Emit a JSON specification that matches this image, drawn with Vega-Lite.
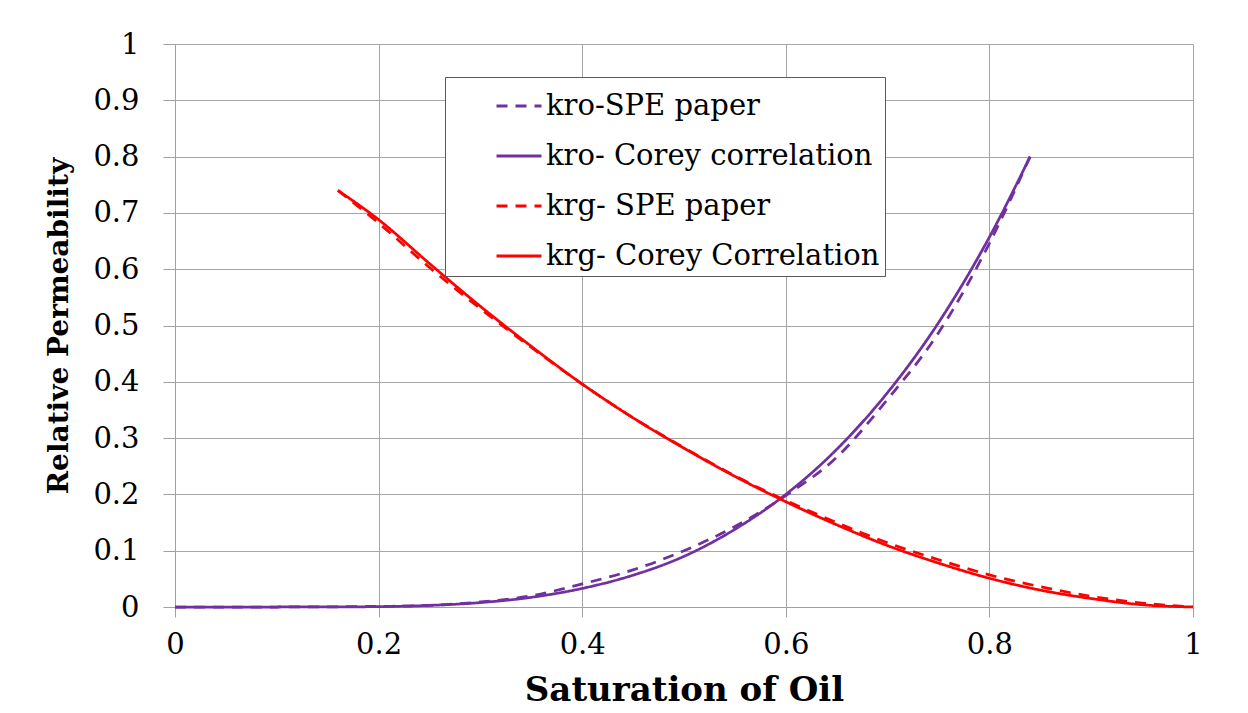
{
  "$schema": "https://vega.github.io/schema/vega-lite/v6.json",
  "width": 1018,
  "height": 563,
  "autosize": {"type": "none"},
  "padding": {"left": 175, "top": 44, "right": 55, "bottom": 106},
  "background": "white",
  "config": {"view": {"stroke": null}, "font": "DejaVu Serif"},
  "data": {
    "values": [
      {"s": "kro-SPE paper", "x": 0, "y": 0},
      {"s": "kro-SPE paper", "x": 0.05, "y": 0},
      {"s": "kro-SPE paper", "x": 0.1, "y": 0},
      {"s": "kro-SPE paper", "x": 0.15, "y": 0.0003},
      {"s": "kro-SPE paper", "x": 0.2, "y": 0.001},
      {"s": "kro-SPE paper", "x": 0.25, "y": 0.003},
      {"s": "kro-SPE paper", "x": 0.3, "y": 0.009},
      {"s": "kro-SPE paper", "x": 0.35, "y": 0.02},
      {"s": "kro-SPE paper", "x": 0.4, "y": 0.041},
      {"s": "kro-SPE paper", "x": 0.45, "y": 0.066},
      {"s": "kro-SPE paper", "x": 0.5, "y": 0.1},
      {"s": "kro-SPE paper", "x": 0.55, "y": 0.143},
      {"s": "kro-SPE paper", "x": 0.6, "y": 0.198},
      {"s": "kro-SPE paper", "x": 0.65, "y": 0.266},
      {"s": "kro-SPE paper", "x": 0.7, "y": 0.369},
      {"s": "kro-SPE paper", "x": 0.75, "y": 0.487},
      {"s": "kro-SPE paper", "x": 0.8, "y": 0.646},
      {"s": "kro-SPE paper", "x": 0.84, "y": 0.8},
      {"s": "kro- Corey correlation", "x": 0, "y": 0},
      {"s": "kro- Corey correlation", "x": 0.05, "y": 0},
      {"s": "kro- Corey correlation", "x": 0.1, "y": 0},
      {"s": "kro- Corey correlation", "x": 0.15, "y": 0.0001},
      {"s": "kro- Corey correlation", "x": 0.2, "y": 0.0007},
      {"s": "kro- Corey correlation", "x": 0.25, "y": 0.0028},
      {"s": "kro- Corey correlation", "x": 0.3, "y": 0.0078},
      {"s": "kro- Corey correlation", "x": 0.35, "y": 0.0172},
      {"s": "kro- Corey correlation", "x": 0.4, "y": 0.033},
      {"s": "kro- Corey correlation", "x": 0.45, "y": 0.0565},
      {"s": "kro- Corey correlation", "x": 0.5, "y": 0.09},
      {"s": "kro- Corey correlation", "x": 0.55, "y": 0.138},
      {"s": "kro- Corey correlation", "x": 0.6, "y": 0.2},
      {"s": "kro- Corey correlation", "x": 0.65, "y": 0.28},
      {"s": "kro- Corey correlation", "x": 0.7, "y": 0.381},
      {"s": "kro- Corey correlation", "x": 0.75, "y": 0.505},
      {"s": "kro- Corey correlation", "x": 0.8, "y": 0.657},
      {"s": "kro- Corey correlation", "x": 0.84, "y": 0.8},
      {"s": "krg- SPE paper", "x": 0.16, "y": 0.74},
      {"s": "krg- SPE paper", "x": 0.2, "y": 0.682},
      {"s": "krg- SPE paper", "x": 0.25, "y": 0.603},
      {"s": "krg- SPE paper", "x": 0.3, "y": 0.53},
      {"s": "krg- SPE paper", "x": 0.35, "y": 0.461},
      {"s": "krg- SPE paper", "x": 0.4, "y": 0.396},
      {"s": "krg- SPE paper", "x": 0.45, "y": 0.336},
      {"s": "krg- SPE paper", "x": 0.5, "y": 0.283},
      {"s": "krg- SPE paper", "x": 0.55, "y": 0.233},
      {"s": "krg- SPE paper", "x": 0.6, "y": 0.189},
      {"s": "krg- SPE paper", "x": 0.65, "y": 0.15},
      {"s": "krg- SPE paper", "x": 0.7, "y": 0.114},
      {"s": "krg- SPE paper", "x": 0.75, "y": 0.084},
      {"s": "krg- SPE paper", "x": 0.8, "y": 0.057},
      {"s": "krg- SPE paper", "x": 0.85, "y": 0.036},
      {"s": "krg- SPE paper", "x": 0.9, "y": 0.019},
      {"s": "krg- SPE paper", "x": 0.95, "y": 0.007},
      {"s": "krg- SPE paper", "x": 1, "y": 0},
      {"s": "krg- Corey Correlation", "x": 0.16, "y": 0.74},
      {"s": "krg- Corey Correlation", "x": 0.2, "y": 0.688},
      {"s": "krg- Corey Correlation", "x": 0.25, "y": 0.61},
      {"s": "krg- Corey Correlation", "x": 0.3, "y": 0.534},
      {"s": "krg- Corey Correlation", "x": 0.35, "y": 0.463},
      {"s": "krg- Corey Correlation", "x": 0.4, "y": 0.396},
      {"s": "krg- Corey Correlation", "x": 0.45, "y": 0.336},
      {"s": "krg- Corey Correlation", "x": 0.5, "y": 0.282},
      {"s": "krg- Corey Correlation", "x": 0.55, "y": 0.232},
      {"s": "krg- Corey Correlation", "x": 0.6, "y": 0.187},
      {"s": "krg- Corey Correlation", "x": 0.65, "y": 0.146},
      {"s": "krg- Corey Correlation", "x": 0.7, "y": 0.109},
      {"s": "krg- Corey Correlation", "x": 0.75, "y": 0.078},
      {"s": "krg- Corey Correlation", "x": 0.8, "y": 0.051},
      {"s": "krg- Corey Correlation", "x": 0.85, "y": 0.03},
      {"s": "krg- Corey Correlation", "x": 0.9, "y": 0.015},
      {"s": "krg- Corey Correlation", "x": 0.95, "y": 0.004},
      {"s": "krg- Corey Correlation", "x": 1, "y": 0}
    ]
  },
  "encoding": {
    "x": {
      "field": "x",
      "type": "quantitative",
      "scale": {"domain": [0, 1], "nice": false, "zero": false},
      "axis": {
        "values": [0, 0.2, 0.4, 0.6, 0.8, 1],
        "format": "~g",
        "labelFont": "DejaVu Serif",
        "labelFontSize": 29,
        "labelColor": "black",
        "labelPadding": 13,
        "labelFlush": false,
        "tickSize": 10,
        "tickColor": "#a0a0a0",
        "domainColor": "#a0a0a0",
        "gridColor": "#a6a6a6",
        "gridWidth": 1,
        "title": "Saturation of Oil",
        "titleFont": "DejaVu Serif",
        "titleFontSize": 34,
        "titleFontWeight": "bold",
        "titleColor": "black",
        "titleX": 509,
        "titleY": 93,
        "titleBaseline": "alphabetic",
        "titleAlign": "center"
      }
    },
    "y": {
      "field": "y",
      "type": "quantitative",
      "scale": {"domain": [0, 1], "nice": false},
      "axis": {
        "values": [0, 0.1, 0.2, 0.3, 0.4, 0.5, 0.6, 0.7, 0.8, 0.9, 1],
        "format": "~g",
        "labelFont": "DejaVu Serif",
        "labelFontSize": 29,
        "labelColor": "black",
        "labelPadding": 24,
        "labelFlush": false,
        "tickSize": 12,
        "tickColor": "#a0a0a0",
        "domainColor": "#a0a0a0",
        "gridColor": "#a6a6a6",
        "gridWidth": 1,
        "title": "Relative Permeability",
        "titleFont": "DejaVu Serif",
        "titleFontSize": 28,
        "titleFontWeight": "bold",
        "titleColor": "black",
        "titleAngle": 270,
        "titleX": -108,
        "titleY": 281.5,
        "titleBaseline": "alphabetic",
        "titleAlign": "center"
      }
    },
    "color": {
      "field": "s",
      "type": "nominal",
      "scale": {
        "domain": ["kro-SPE paper", "kro- Corey correlation", "krg- SPE paper", "krg- Corey Correlation"],
        "range": ["#7030A0", "#7030A0", "#FF0000", "#FF0000"]
      },
      "legend": {
        "orient": "none",
        "legendX": 270,
        "legendY": 33,
        "title": null,
        "labelFont": "DejaVu Serif",
        "labelFontSize": 29,
        "labelColor": "black",
        "labelLimit": 0,
        "labelOffset": 3,
        "symbolType": "stroke",
        "symbolSize": 2025,
        "symbolStrokeWidth": 3,
        "symbolOffset": 45,
        "rowPadding": 11,
        "padding": 5,
        "strokeColor": "#595959",
        "fillColor": "white"
      }
    },
    "strokeDash": {
      "field": "s",
      "type": "nominal",
      "scale": {
        "domain": ["kro-SPE paper", "kro- Corey correlation", "krg- SPE paper", "krg- Corey Correlation"],
        "range": [[11, 8], [1, 0], [11, 8], [1, 0]]
      },
      "legend": {
        "orient": "none",
        "legendX": 270,
        "legendY": 33,
        "title": null,
        "labelFont": "DejaVu Serif",
        "labelFontSize": 29,
        "labelColor": "black",
        "labelLimit": 0,
        "labelOffset": 3,
        "symbolType": "stroke",
        "symbolSize": 2025,
        "symbolStrokeWidth": 3,
        "symbolOffset": 45,
        "rowPadding": 11,
        "padding": 5,
        "strokeColor": "#595959",
        "fillColor": "white"
      }
    }
  },
  "layer": [
    {
      "transform": [{"filter": "indexof(datum.s, 'kro') == 0"}],
      "mark": {"type": "line", "interpolate": "monotone", "strokeWidth": 2.75}
    },
    {
      "transform": [{"filter": "indexof(datum.s, 'krg') == 0"}],
      "mark": {"type": "line", "interpolate": "monotone", "strokeWidth": 2.75}
    }
  ]
}
